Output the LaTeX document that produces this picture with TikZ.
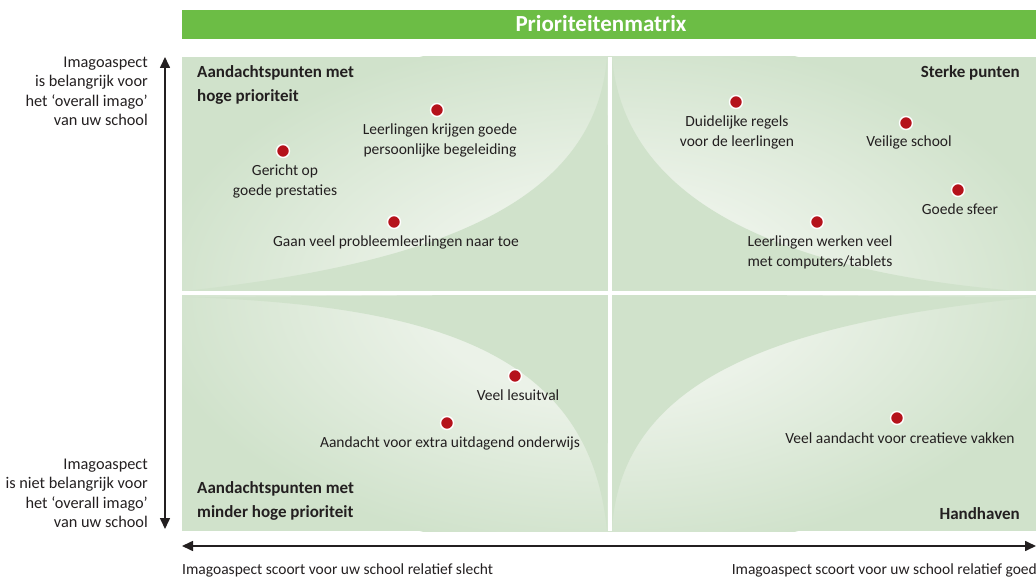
\documentclass[tikz,border=0pt]{standalone}
\usepackage{fontspec}
\setmainfont{Carlito}
\usetikzlibrary{arrows.meta}
\definecolor{barGreen}{HTML}{6CBD45}
\definecolor{baseGreen}{HTML}{D0E2CB}
\definecolor{lightGreen}{HTML}{EBF2E8}
\definecolor{dotRed}{HTML}{B5121B}
\definecolor{ink}{HTML}{231F20}
\pgfdeclareradialshading{glow}{\pgfpoint{0bp}{0bp}}{%
  color(0bp)=(lightGreen); color(10bp)=(lightGreen);
  color(25bp)=(baseGreen); color(50bp)=(baseGreen)}
\begin{document}
\begin{tikzpicture}[x=1pt,y=-1pt,
  lbl/.style={inner sep=0pt, align=center, anchor=base, text=ink,
    font=\fontsize{15.5}{19.3}\selectfont},
  side/.style={inner sep=0pt, align=right, anchor=base east, text=ink,
    font=\fontsize{16.3}{19.3}\selectfont},
  head/.style={inner sep=0pt, text=ink,
    font=\fontsize{17}{24}\selectfont\bfseries},
  axislbl/.style={inner sep=0pt, text=ink,
    font=\fontsize{15.5}{18}\selectfont},
  dot/.style={circle, fill=dotRed, draw=white, line width=1.4pt,
    inner sep=0pt, minimum size=13pt},
  axisline/.style={draw=ink, line width=1.6pt,
    {Triangle[length=11pt,width=10pt]}-{Triangle[length=11pt,width=10pt]}},
  divider/.style={draw=white, line width=4pt}
]
\useasboundingbox (0,0) rectangle (1036,577);

% title bar
\fill[barGreen] (182,10) rectangle (1036,39);
\node[inner sep=0pt, anchor=base, text=white,
  font=\fontsize{23}{26}\selectfont\bfseries] (title) at (601,32) {Prioriteitenmatrix};

% matrix background with glow
\begin{scope}
  \clip (182,57) rectangle (1036,531);
  \fill[baseGreen] (182,57) rectangle (1036,531);
  \shade[shading=glow] (609,294) ellipse [x radius=460pt, y radius=260pt];
  % central star in base colour
  \fill[baseGreen] (609,294) -- (607,57) .. controls (595,210) and (420,265) .. (185,291) -- cycle;
  \fill[baseGreen] (609,294) -- (612,57) .. controls (625,210) and (800,275) .. (1030,292) -- cycle;
  \fill[baseGreen] (609,294) -- (185,297) .. controls (430,305) and (590,350) .. (607,531) -- cycle;
  \fill[baseGreen] (609,294) -- (1036,297) .. controls (800,320) and (620,370) .. (612,531) -- cycle;
\end{scope}

% dividers
\coordinate (vdt) at (609.7,57);
\coordinate (vdb) at (609.7,531);
\coordinate (hdl) at (182,293);
\coordinate (hdr) at (1036,293);
\draw[divider] (vdt) -- (vdb);
\draw[divider] (hdl) -- (hdr);

% axes
\coordinate (vt) at (165,57);
\coordinate (vb) at (165,529);
\draw[axisline] (vt) -- (vb);
\coordinate (hl) at (182,546);
\coordinate (hr) at (1036,546);
\draw[axisline] (hl) -- (hr);

% side labels (anchor = baseline of last line)
\node[side] (topside) at (148,125.5) {Imagoaspect\\is belangrijk voor\\het ‘overall imago’\\van uw school};
\node[side] (botside) at (148,527.5) {Imagoaspect\\is niet belangrijk voor\hspace*{4pt}\\het ‘overall imago’\\van uw school};

% bottom labels
\node[axislbl, anchor=base west] (badlbl) at (182,574.5) {Imagoaspect scoort voor uw school relatief slecht};
\node[axislbl, anchor=base east] (goodlbl) at (1037,574.5) {Imagoaspect scoort voor uw school relatief goed};

% quadrant headings
\node[head, anchor=base west, align=left] (hTL) at (197,102) {Aandachtspunten met\\hoge prioriteit};
\node[head, anchor=base east] (hTR) at (1020,78) {Sterke punten};
\node[head, anchor=base west, align=left] (hBL) at (197,517) {Aandachtspunten met\\minder hoge prioriteit};
\node[head, anchor=base east] (hBR) at (1020,519) {Handhaven};

% dots and labels
\node[dot] (d1) at (437,110) {};
\node[lbl] (l1) at (440,154.3) {Leerlingen krijgen goede\\persoonlijke begeleiding};
\node[dot] (d2) at (283,151) {};
\node[lbl] (l2) at (285,195.3) {Gericht op\\goede prestaties};
\node[dot] (d3) at (394,222) {};
\node[lbl] (l3) at (396,247) {Gaan veel probleemleerlingen naar toe};
\node[dot] (d4) at (736,102) {};
\node[lbl] (l4) at (737,146.3) {Duidelijke regels\\voor de leerlingen};
\node[dot] (d5) at (906,123) {};
\node[lbl] (l5) at (909,147) {Veilige school};
\node[dot] (d6) at (958,190) {};
\node[lbl] (l6) at (960,215) {Goede sfeer};
\node[dot] (d7) at (817,222) {};
\node[lbl] (l7) at (820,266.3) {Leerlingen werken veel\\met computers/tablets};
\node[dot] (d8) at (515,376) {};
\node[lbl] (l8) at (518,400) {Veel lesuitval};
\node[dot] (d9) at (447,423) {};
\node[lbl] (l9) at (450,447) {Aandacht voor extra uitdagend onderwijs};
\node[dot] (d10) at (897,418) {};
\node[lbl] (l10) at (900,443) {Veel aandacht voor creatieve vakken};
\end{tikzpicture}
\end{document}
